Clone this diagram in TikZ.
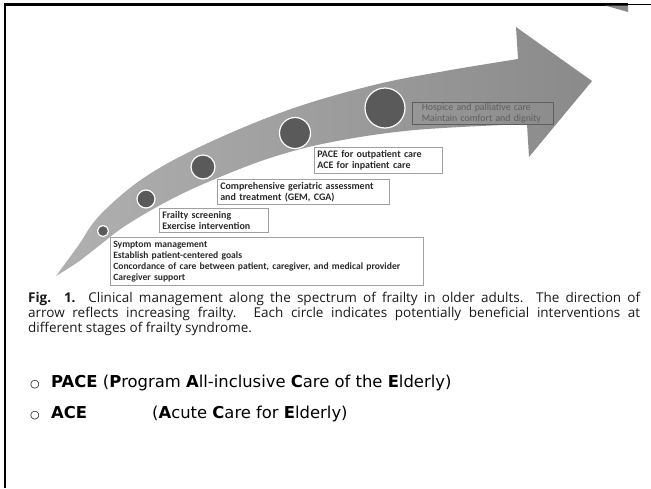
\documentclass[tikz,border=0pt]{standalone}
\usepackage{fontspec}
\setmainfont{Liberation Sans}
\newfontfamily\boxfont{Carlito}
\newfontfamily\capfont{Open Sans}
\newfontfamily\slidefont{DejaVu Sans}
\definecolor{arrowgray}{HTML}{8A8A8A}
\definecolor{arrowlight}{HTML}{B0B0B0}
\definecolor{dotgray}{HTML}{5A5A5A}
\definecolor{edgegray}{HTML}{A0A0A0}
\definecolor{inkgray}{HTML}{2A2A2A}
\definecolor{fadegray}{HTML}{5E5E5E}

\begin{document}
\begin{tikzpicture}[x=1pt, y=-1pt,
  stagebox/.style={draw=edgegray, fill=white, line width=0.6pt, anchor=north west,
    align=left, inner xsep=3pt, inner ysep=1pt, text=inkgray,
    font=\boxfont\bfseries\fontsize{10}{11}\selectfont},
  hospicebox/.style={draw=fadegray, line width=0.5pt, anchor=north east,
    align=left, inner xsep=10pt, inner ysep=1pt, text=fadegray,
    font=\boxfont\fontsize{9.8}{11}\selectfont},
  stagedot/.style={circle, fill=dotgray, draw=white, line width=1.2pt, inner sep=0pt},
  defline/.style={anchor=west, inner sep=0pt, font=\slidefont\fontsize{16.4}{19}\selectfont},
]
  \useasboundingbox (0,0) rectangle (651,488);
  % slide frame
  \draw[line width=2.5pt] (5,488) -- (5,4.5) -- (628,4.5);
  \draw[line width=1.5pt] (628,4.5) -- (651,4.5);
  \fill[arrowgray] (605,5.5) -- (628,5.5) -- (628,12) -- cycle;

  \shade[left color=arrowlight, right color=arrowgray]
    (56,276) -- plot[smooth, tension=0.6] coordinates {(56,276) (78,246) (100,215)
      (145,177) (208,143) (291,109) (374,85) (445,71) (518,59)}
    -- (516,27) -- (592,81) -- (529,157) -- (527,124)
    -- plot[smooth, tension=0.6] coordinates {(527,124) (415,130) (332,142)
      (270,158) (208,182) (166,202) (125,226) (100,245) (78,262) (56,276)}
    -- cycle;

  \foreach \x/\y/\r [count=\i] in {103/231/5.5, 146/199/9, 203/167/12, 295/133/15.5, 385/108/20}
    \node[stagedot, minimum size=2*\r pt] (dot\i) at (\x,\y) {};

  \node[stagebox, text width=307pt, minimum height=48pt,
    font=\boxfont\bfseries\fontsize{9.6}{11}\selectfont] (symptom) at (110,237)
    {Symptom management\\Establish patient-centered goals\\
     Concordance of care between patient, caregiver, and medical provider\\Caregiver support};
  \node[stagebox, text width=103pt, minimum height=24pt] (frailty) at (159,208)
    {Frailty screening\\Exercise intervention};
  \node[stagebox, text width=166pt, minimum height=25pt] (cga) at (217,179)
    {Comprehensive geriatric assessment\\and treatment (GEM, CGA)};
  \node[stagebox, text width=122pt, minimum height=26pt] (pace) at (314,147)
    {PACE for outpatient care\\ACE for inpatient care};
  \node[hospicebox, text width=121pt, minimum height=22pt] (hospice) at (553,102)
    {Hospice and palliative care\\Maintain comfort and dignity};

  \node[anchor=north west, inner sep=0pt, align=left, text=black!90,
    font=\capfont\fontsize{13.5}{15}\selectfont] (caption) at (28,292)
    {\makebox[612pt][s]{\textbf{Fig. 1.} Clinical management along the spectrum of frailty in older adults. The direction of}\\
     \makebox[612pt][s]{arrow reflects increasing frailty. Each circle indicates potentially beneficial interventions at}\\
     different stages of frailty syndrome.};

  \node[defline] (pacedef) at (30,383)
    {\makebox[21pt][l]{\fontsize{11}{12}\selectfont ○}\textbf{PACE} (\textbf{P}rogram \textbf{A}ll-inclusive \textbf{C}are of the \textbf{E}lderly)};
  \node[defline] (acedef) at (30,414)
    {\makebox[21pt][l]{\fontsize{11}{12}\selectfont ○}\makebox[101pt][l]{\textbf{ACE}}(\textbf{A}cute \textbf{C}are for \textbf{E}lderly)};
\end{tikzpicture}
\end{document}
